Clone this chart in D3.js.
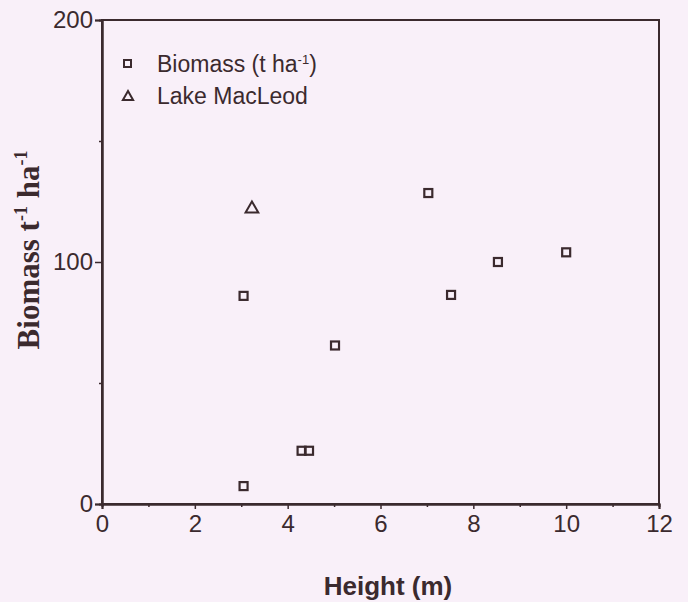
<!DOCTYPE html>
<html><head><meta charset="utf-8">
<script src="https://cdn.jsdelivr.net/npm/d3@7"></script>
<style>
html,body{margin:0;padding:0;background:#f9f0f9;}
svg{display:block;}
</style></head>
<body><svg id="c" width="688" height="602"></svg>
<script>
const biomassHeight = [3.05, 3.05, 4.3, 4.46, 5.02, 7.03, 7.52, 8.53, 10.0];
const biomassValue  = [7.4, 86, 22, 22, 65.5, 128.5, 86.4, 100, 104];
const lakeHeight = [3.23];
const lakeValue  = [122];
const xTicks = [0, 2, 4, 6, 8, 10, 12];
const xMinor = [1, 3, 5, 7, 9, 11];
const yTicks = [0, 100, 200];
const yMinor = [50, 150];

const ink = "#3b2a2e";
const svg = d3.select("#c");
const L = 102, R = 659, T = 20, B = 504;
const x = d3.scaleLinear().domain([0, 12]).range([L, R]);
const y = d3.scaleLinear().domain([0, 200]).range([B, T]);

// frame
svg.append("rect").attr("x", L).attr("y", T).attr("width", R - L).attr("height", B - T)
  .attr("fill", "none").attr("stroke", ink).attr("stroke-width", 2);

const font = "'Liberation Sans', Arial, Helvetica, sans-serif";

const xAxis = svg.append("g").attr("transform", `translate(0,${B})`)
  .call(d3.axisBottom(x).tickValues(xTicks).tickSize(5).tickPadding(6).tickFormat(d3.format("d")));
const xAxisMinor = svg.append("g").attr("transform", `translate(0,${B})`)
  .call(d3.axisBottom(x).tickValues(xMinor).tickSize(3).tickFormat(""));
const yAxis = svg.append("g").attr("transform", `translate(${L},0)`)
  .call(d3.axisLeft(y).tickValues(yTicks).tickSize(7).tickPadding(2).tickFormat(d3.format("d")));
const yAxisMinor = svg.append("g").attr("transform", `translate(${L},0)`)
  .call(d3.axisLeft(y).tickValues(yMinor).tickSize(3).tickFormat(""));

[xAxis, xAxisMinor, yAxis, yAxisMinor].forEach(g => {
  g.select(".domain").attr("stroke", ink).attr("stroke-width", 2);
  g.selectAll(".tick line").attr("stroke", ink).attr("stroke-width", 1.5);
  g.selectAll(".tick text").attr("fill", ink).style("font-family", font).style("font-size", "24px");
});

// axis titles
svg.append("text").attr("x", 388).attr("y", 595).attr("text-anchor", "middle")
  .attr("fill", ink).style("font-family", font).style("font-size", "26px").style("font-weight", "bold")
  .text("Height (m)");

const yl = svg.append("text").attr("transform", "translate(39,250) rotate(-90)")
  .attr("text-anchor", "middle").attr("fill", ink)
  .style("font-family", "'Liberation Serif', 'Times New Roman', serif").style("font-size", "31px").style("font-weight", "bold");
yl.append("tspan").text("Biomass t");
yl.append("tspan").attr("dy", -12).style("font-size", "18px").text("-1");
yl.append("tspan").attr("dy", 12).text(" ha");
yl.append("tspan").attr("dy", -12).style("font-size", "18px").text("-1");

// markers
const sq = 8;
svg.append("g").selectAll("rect").data(biomassHeight.map((h, i) => [h, biomassValue[i]]))
  .join("rect")
  .attr("x", d => x(d[0]) - sq / 2).attr("y", d => y(d[1]) - sq / 2)
  .attr("width", sq).attr("height", sq)
  .attr("fill", "none").attr("stroke", ink).attr("stroke-width", 2.2);

const tri = d3.symbol().type(d3.symbolTriangle).size(70);
svg.append("g").selectAll("path").data(lakeHeight.map((h, i) => [h, lakeValue[i]]))
  .join("path")
  .attr("d", tri).attr("transform", d => `translate(${x(d[0])},${y(d[1])})`)
  .attr("fill", "none").attr("stroke", ink).attr("stroke-width", 2);

// legend
const lg = svg.append("g");
lg.append("rect").attr("x", 124).attr("y", 60).attr("width", 7).attr("height", 7)
  .attr("fill", "none").attr("stroke", ink).attr("stroke-width", 2);
lg.append("path").attr("d", d3.symbol().type(d3.symbolTriangle).size(45))
  .attr("transform", "translate(128,97)").attr("fill", "none").attr("stroke", ink).attr("stroke-width", 2);
const t1 = lg.append("text").attr("x", 157).attr("y", 72).attr("fill", ink)
  .style("font-family", font).style("font-size", "23px");
t1.append("tspan").text("Biomass (t ha");
t1.append("tspan").attr("dy", -8).style("font-size", "13px").text("-1");
t1.append("tspan").attr("dy", 8).text(")");
lg.append("text").attr("x", 157).attr("y", 104).attr("fill", ink)
  .style("font-family", font).style("font-size", "23px").text("Lake MacLeod");
</script></body></html>
